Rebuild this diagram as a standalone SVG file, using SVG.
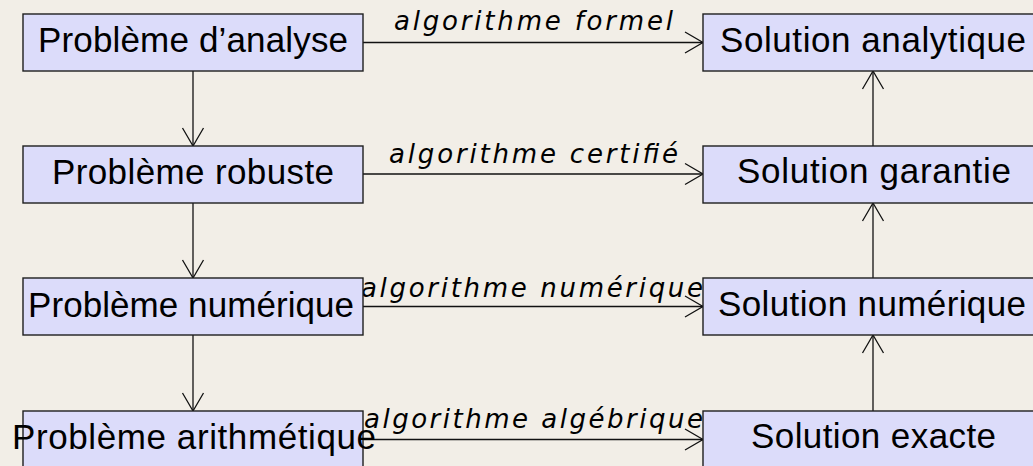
<svg xmlns="http://www.w3.org/2000/svg" width="1033" height="466" viewBox="0 0 1033 466">
  <style>
    .bg { fill: #f2eee7; }
    .box { fill: #dcdcfa; stroke: #1e1e1e; stroke-width: 1.4; }
    .txt { font-family: "Liberation Sans", Arial, sans-serif; font-size: 35px; fill: #000; }
    .lbl { font-family: "DejaVu Sans", "Liberation Sans", sans-serif; font-size: 26px; font-style: italic; fill: #000; }
    .edge { stroke: #111; stroke-width: 1.3; fill: none; }
  </style>
  <defs>
    <marker id="arr" markerUnits="userSpaceOnUse" viewBox="-20 -12 22 24" markerWidth="22" markerHeight="24" refX="0" refY="0" orient="auto" overflow="visible">
      <path d="M-18,-10.5 L0,0 L-18,10.5" fill="none" stroke="#111" stroke-width="1.3"/>
    </marker>
  </defs>
  <rect class="bg" x="0" y="0" width="1033" height="466"/>

  <g id="connectors">
    <line class="edge" x1="193" y1="71" x2="193" y2="146" marker-end="url(#arr)"/>
    <line class="edge" x1="193" y1="203" x2="193" y2="278" marker-end="url(#arr)"/>
    <line class="edge" x1="193" y1="335" x2="193" y2="411" marker-end="url(#arr)"/>
    <line class="edge" x1="873" y1="146" x2="873" y2="71" marker-end="url(#arr)"/>
    <line class="edge" x1="873" y1="278" x2="873" y2="203" marker-end="url(#arr)"/>
    <line class="edge" x1="873" y1="411" x2="873" y2="335" marker-end="url(#arr)"/>
    <line class="edge" x1="363" y1="42.5" x2="703" y2="42.5" marker-end="url(#arr)"/>
    <line class="edge" x1="363" y1="174" x2="703" y2="174" marker-end="url(#arr)"/>
    <line class="edge" x1="363" y1="306.5" x2="703" y2="306.5" marker-end="url(#arr)"/>
    <line class="edge" x1="363" y1="439.5" x2="703" y2="439.5" marker-end="url(#arr)"/>
    <text class="lbl" x="394" y="30" textLength="279" lengthAdjust="spacing">algorithme formel</text>
    <text class="lbl" x="389" y="163" textLength="289" lengthAdjust="spacing">algorithme certifié</text>
    <text class="lbl" x="361" y="297" textLength="342" lengthAdjust="spacing">algorithme numérique</text>
    <text class="lbl" x="364" y="428" textLength="339" lengthAdjust="spacing">algorithme algébrique</text>
  </g>

  <g id="n-analyse">
    <rect class="box" x="23" y="14" width="340" height="57"/>
    <text class="txt" x="38" y="52" textLength="310" lengthAdjust="spacing">Problème d’analyse</text>
  </g>
  <g id="n-robuste">
    <rect class="box" x="23" y="146" width="340" height="57"/>
    <text class="txt" x="52" y="183.5" textLength="282" lengthAdjust="spacing">Problème robuste</text>
  </g>
  <g id="n-numerique">
    <rect class="box" x="23" y="278" width="340" height="57"/>
    <text class="txt" x="28" y="317" textLength="326" lengthAdjust="spacing">Problème numérique</text>
  </g>
  <g id="n-arith">
    <rect class="box" x="23" y="411" width="340" height="57"/>
    <text class="txt" x="12" y="449" textLength="364" lengthAdjust="spacing">Problème arithmétique</text>
  </g>
  <g id="s-analytique">
    <rect class="box" x="703" y="14" width="340" height="57"/>
    <text class="txt" x="720" y="52" textLength="306" lengthAdjust="spacing">Solution analytique</text>
  </g>
  <g id="s-garantie">
    <rect class="box" x="703" y="146" width="340" height="57"/>
    <text class="txt" x="737" y="183" textLength="274" lengthAdjust="spacing">Solution garantie</text>
  </g>
  <g id="s-numerique">
    <rect class="box" x="703" y="278" width="340" height="57"/>
    <text class="txt" x="718" y="316" textLength="308" lengthAdjust="spacing">Solution numérique</text>
  </g>
  <g id="s-exacte">
    <rect class="box" x="703" y="411" width="340" height="57"/>
    <text class="txt" x="751" y="448" textLength="245" lengthAdjust="spacing">Solution exacte</text>
  </g>
</svg>
